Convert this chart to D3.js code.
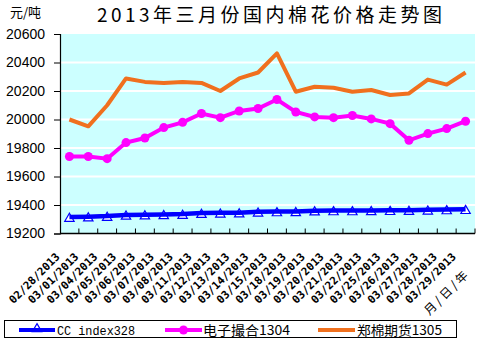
<!DOCTYPE html>
<html><head><meta charset="utf-8">
<script src="https://cdn.jsdelivr.net/npm/d3@7"></script>
<style>body{margin:0;background:#fff}svg{display:block}</style>
</head><body>
<svg id="c" width="480" height="342"></svg>
<script>
const categories = ["02/28/2013","03/01/2013","03/04/2013","03/05/2013","03/06/2013","03/07/2013","03/08/2013","03/11/2013","03/12/2013","03/13/2013","03/14/2013","03/15/2013","03/18/2013","03/19/2013","03/20/2013","03/21/2013","03/22/2013","03/25/2013","03/26/2013","03/27/2013","03/28/2013","03/29/2013"];
const ccIndex = [19315,19318,19322,19330,19332,19334,19336,19343,19345,19346,19352,19354,19355,19360,19361,19361,19362,19363,19364,19366,19368,19370];
const dianzi = [19740,19740,19725,19838,19870,19943,19980,20042,20013,20060,20077,20140,20053,20018,20013,20028,20004,19971,19854,19901,19936,19988];
const zhengmian = [20000,19952,20100,20288,20264,20257,20264,20257,20200,20288,20330,20464,20195,20230,20223,20195,20207,20172,20183,20280,20245,20330];
const yTicks = [19200,19400,19600,19800,20000,20200,20400,20600];
const seriesNames = ["CC index328","电子撮合1304","郑棉期货1305"];
const title = "2013年三月份国内棉花价格走势图";
const yUnit = "元/吨";
const xUnit = "月/日/年";

const svg = d3.select("#c");
const L=60,R=475,T=34,B=233.5;
const x = d3.scaleBand().domain(categories).range([L,R]);
const y = d3.scaleLinear().domain([19200,20600]).range([B,T]);
const cx = d => x(d)+x.bandwidth()/2;
const cjk = "'Noto Sans CJK SC', sans-serif";

svg.append("rect").attr("x",L).attr("y",T).attr("width",R-L).attr("height",B-T).attr("fill","#ccffff");
svg.append("g").selectAll("line").data(yTicks.slice(1,-1)).join("line")
  .attr("x1",L).attr("x2",R).attr("y1",d=>y(d)).attr("y2",d=>y(d))
  .attr("stroke","#fff").attr("stroke-width",2);

// y axis
const ya = svg.append("g").attr("transform",`translate(${L},0)`)
  .call(d3.axisLeft(y).tickValues(yTicks).tickSize(6).tickPadding(9).tickFormat(d3.format("d")));
ya.select(".domain").attr("stroke","#000").attr("stroke-width",1.2);
ya.selectAll("text").attr("font-family","'Liberation Sans', sans-serif").attr("font-size",14).attr("fill","#000");

// x axis
const xa = svg.append("g").attr("transform",`translate(0,${B})`);
xa.append("line").attr("x1",L).attr("x2",R).attr("y1",0).attr("y2",0).attr("stroke","#000").attr("stroke-width",1.5);
xa.selectAll("line.t").data(categories.slice(1).concat(["__end"])).join("line").attr("class","t")
  .attr("x1",(d,i)=>L+(i+1)*x.step()).attr("x2",(d,i)=>L+(i+1)*x.step())
  .attr("y1",0).attr("y2",-5).attr("stroke","#000").attr("stroke-width",1);
svg.append("g").selectAll("text").data(categories).join("text")
  .attr("transform",d=>`translate(${cx(d)-9},${B+24}) rotate(-45)`)
  .attr("text-anchor","end").attr("font-family","'DejaVu Sans Mono', monospace")
  .attr("font-size",11).attr("font-weight","bold").attr("fill","#000").text(d=>d);

svg.append("text").attr("transform","translate(449,296) rotate(-45)").attr("text-anchor","middle")
  .attr("font-family",cjk).attr("font-size",12).attr("fill","#000").text(xUnit.split("/").join(" / "));

// lines
const line = d3.line().x((d,i)=>cx(categories[i])).y(d=>y(d));
const tri = d3.symbol().type(d3.symbolTriangle).size(38);
svg.append("g").selectAll("path").data(ccIndex).join("path")
  .attr("d",tri).attr("transform",(d,i)=>`translate(${cx(categories[i])},${y(d)+1.5})`)
  .attr("fill","#fff").attr("stroke","#0000ff").attr("stroke-width",1.2);
svg.append("path").datum(ccIndex).attr("d",line).attr("fill","none").attr("stroke","#0000ff").attr("stroke-width",4.5);
svg.append("path").datum(dianzi).attr("d",line).attr("fill","none").attr("stroke","#ff00ff").attr("stroke-width",4);
svg.append("g").selectAll("circle").data(dianzi).join("circle")
  .attr("cx",(d,i)=>cx(categories[i])).attr("cy",d=>y(d)).attr("r",4.5).attr("fill","#ff00ff");
svg.append("path").datum(zhengmian).attr("d",line).attr("fill","none").attr("stroke","#f0701e").attr("stroke-width",4).attr("stroke-linejoin","round");

// title & unit
svg.append("text").attr("x",97).attr("y",22).attr("textLength",345).attr("lengthAdjust","spacing")
  .attr("font-family",cjk).attr("font-size",19).attr("fill","#000").text(title);
svg.append("text").attr("x",10).attr("y",17).attr("font-family",cjk).attr("font-size",13).attr("fill","#000").text(yUnit);

// legend
const lg = svg.append("g");
lg.append("rect").attr("x",4.5).attr("y",320.5).attr("width",452).attr("height",17).attr("fill","#fff").attr("stroke","#000").attr("stroke-width",1);
const ly = 330;
const items = [
  {x1:19,x2:55,color:"#0000ff",w:4,tx:57,tl:78,font:"'Liberation Mono', monospace"},
  {x1:165,x2:202,color:"#ff00ff",w:4,tx:203,tl:87,font:cjk},
  {x1:318,x2:355,color:"#f0701e",w:4,tx:357,tl:85,font:cjk}
];
items.forEach((it,k)=>{
  if(k===0){
    lg.append("path").attr("d",tri).attr("transform",`translate(${(it.x1+it.x2)/2},${ly-1})`)
      .attr("fill","#fff").attr("stroke","#0000ff").attr("stroke-width",1.2);
  }
  lg.append("line").attr("x1",it.x1).attr("x2",it.x2).attr("y1",ly).attr("y2",ly).attr("stroke",it.color).attr("stroke-width",it.w);
  if(k===1) lg.append("circle").attr("cx",(it.x1+it.x2)/2).attr("cy",ly).attr("r",4.5).attr("fill","#ff00ff");
  lg.append("text").attr("x",it.tx).attr("y",ly+5).attr("textLength",it.tl).attr("lengthAdjust","spacingAndGlyphs")
    .attr("font-family",it.font).attr("font-size",13).attr("fill","#000").text(seriesNames[k]);
});
</script>
</body></html>
